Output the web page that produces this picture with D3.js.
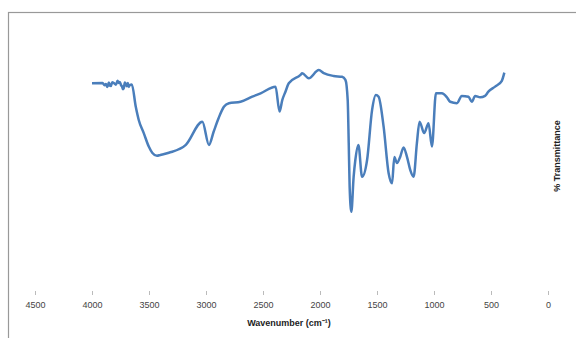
<!DOCTYPE html>
<html>
<head>
<meta charset="utf-8">
<script src="https://cdn.jsdelivr.net/npm/d3@7.9.0/dist/d3.min.js"></script>
<style>
  body { margin: 0; background: #fff; }
  svg { display: block; }
</style>
</head>
<body>
<svg id="chart" width="576" height="338"></svg>
<script>
// IR spectrum: wavenumber (cm-1) and % transmittance
const wavenumber = [4000, 3907, 3890, 3878, 3865, 3852, 3843, 3835, 3822, 3809, 3790, 3776, 3765, 3756,
  3745, 3738, 3729, 3721, 3712, 3703, 3694, 3686, 3677, 3668, 3651,
  3616, 3590, 3546, 3502, 3470, 3430, 3400, 3326, 3177, 3032, 2974, 2933, 2889, 2843, 2799, 2697, 2594,
  2521, 2390, 2355, 2331, 2303, 2274, 2171, 2156, 2099, 2011, 1967, 1880, 1806, 1777, 1757, 1748,
  1740, 1725, 1705, 1690, 1663, 1631, 1587, 1543, 1510, 1486, 1442, 1398, 1368, 1348, 1325, 1296,
  1267, 1237, 1208, 1179, 1150, 1127, 1086, 1048, 1018, 983, 931, 887, 858, 799, 756, 698, 668,
  639, 595, 552, 523, 464, 405, 383];
const transmittance = [74.9, 75.0, 74.2, 74.6, 73.6, 75.2, 74.0, 73.9, 75.3, 75.0, 74.4, 75.8, 75.0, 75.4,
  74.2, 73.9, 72.8, 73.2, 75.2, 74.6, 73.8, 75.0, 73.6, 74.3, 74.5,
  66.5, 61.8, 57.1, 52.3, 50.0, 49.0, 49.3, 50.1, 52.9, 61.2, 52.9, 57.6, 62.5, 66.5, 67.8, 68.3, 70.1,
  71.3, 73.7, 64.8, 68.9, 71.9, 74.9, 77.9, 78.5, 76.7, 79.6, 78.5, 77.5, 77.2, 76.1, 68.9, 53.6,
  38.0, 29.0, 41.5, 47.5, 52.9, 41.5, 47.5, 65.4, 70.7, 70.1, 59.4, 42.8, 39.2, 48.6, 46.4, 48.7,
  52.0, 48.6, 43.9, 41.5, 53.5, 61.2, 57.1, 60.6, 52.3, 71.3, 71.3, 69.9, 68.3, 67.8, 70.4, 70.1, 68.3,
  70.4, 69.9, 70.4, 71.9, 73.7, 75.8, 78.7];
const xTicks = [4500, 4000, 3500, 3000, 2500, 2000, 1500, 1000, 500, 0];

const svg = d3.select('#chart');

// chart frame (only top and left edges fall inside the picture)
svg.append('rect')
  .attr('x', 8.5).attr('y', 12.5)
  .attr('width', 600).attr('height', 400)
  .attr('fill', 'none')
  .attr('stroke', '#999')
  .attr('stroke-width', 1.2);

const x = d3.scaleLinear().domain([4500, 0]).range([35, 548]);
const y = d3.scaleLinear().domain([0, 100]).range([293, 13]);

const data = wavenumber.map((w, i) => ({ w: w, t: transmittance[i] }));

const line = d3.line()
  .x(d => x(d.w))
  .y(d => y(d.t))
  .curve(d3.curveMonotoneX);

svg.append('path')
  .datum(data)
  .attr('d', line)
  .attr('fill', 'none')
  .attr('stroke', '#4a7ebb')
  .attr('stroke-width', 2.5)
  .attr('stroke-linejoin', 'round');

// x axis: ticks and labels only, no axis line
const xAxis = svg.append('g')
  .attr('transform', 'translate(0,291)')
  .call(d3.axisBottom(x).tickValues(xTicks).tickSize(4).tickPadding(7).tickFormat(d3.format('d')));
xAxis.select('.domain').remove();
xAxis.selectAll('line').attr('stroke', '#bbb');
xAxis.selectAll('text')
  .attr('fill', '#444')
  .style('font-family', 'Liberation Sans, Arial, sans-serif')
  .style('font-size', '9px');

svg.append('text')
  .attr('x', 289).attr('y', 326)
  .attr('text-anchor', 'middle')
  .style('font-family', 'Liberation Sans, Arial, sans-serif')
  .style('font-size', '9px')
  .style('font-weight', 'bold')
  .attr('fill', '#222')
  .text('Wavenumber (cm⁻¹)');

svg.append('text')
  .attr('transform', 'translate(560,156) rotate(-90)')
  .attr('text-anchor', 'middle')
  .style('font-family', 'Liberation Sans, Arial, sans-serif')
  .style('font-size', '9px')
  .style('font-weight', 'bold')
  .attr('fill', '#222')
  .text('% Transmittance');
</script>
</body>
</html>
